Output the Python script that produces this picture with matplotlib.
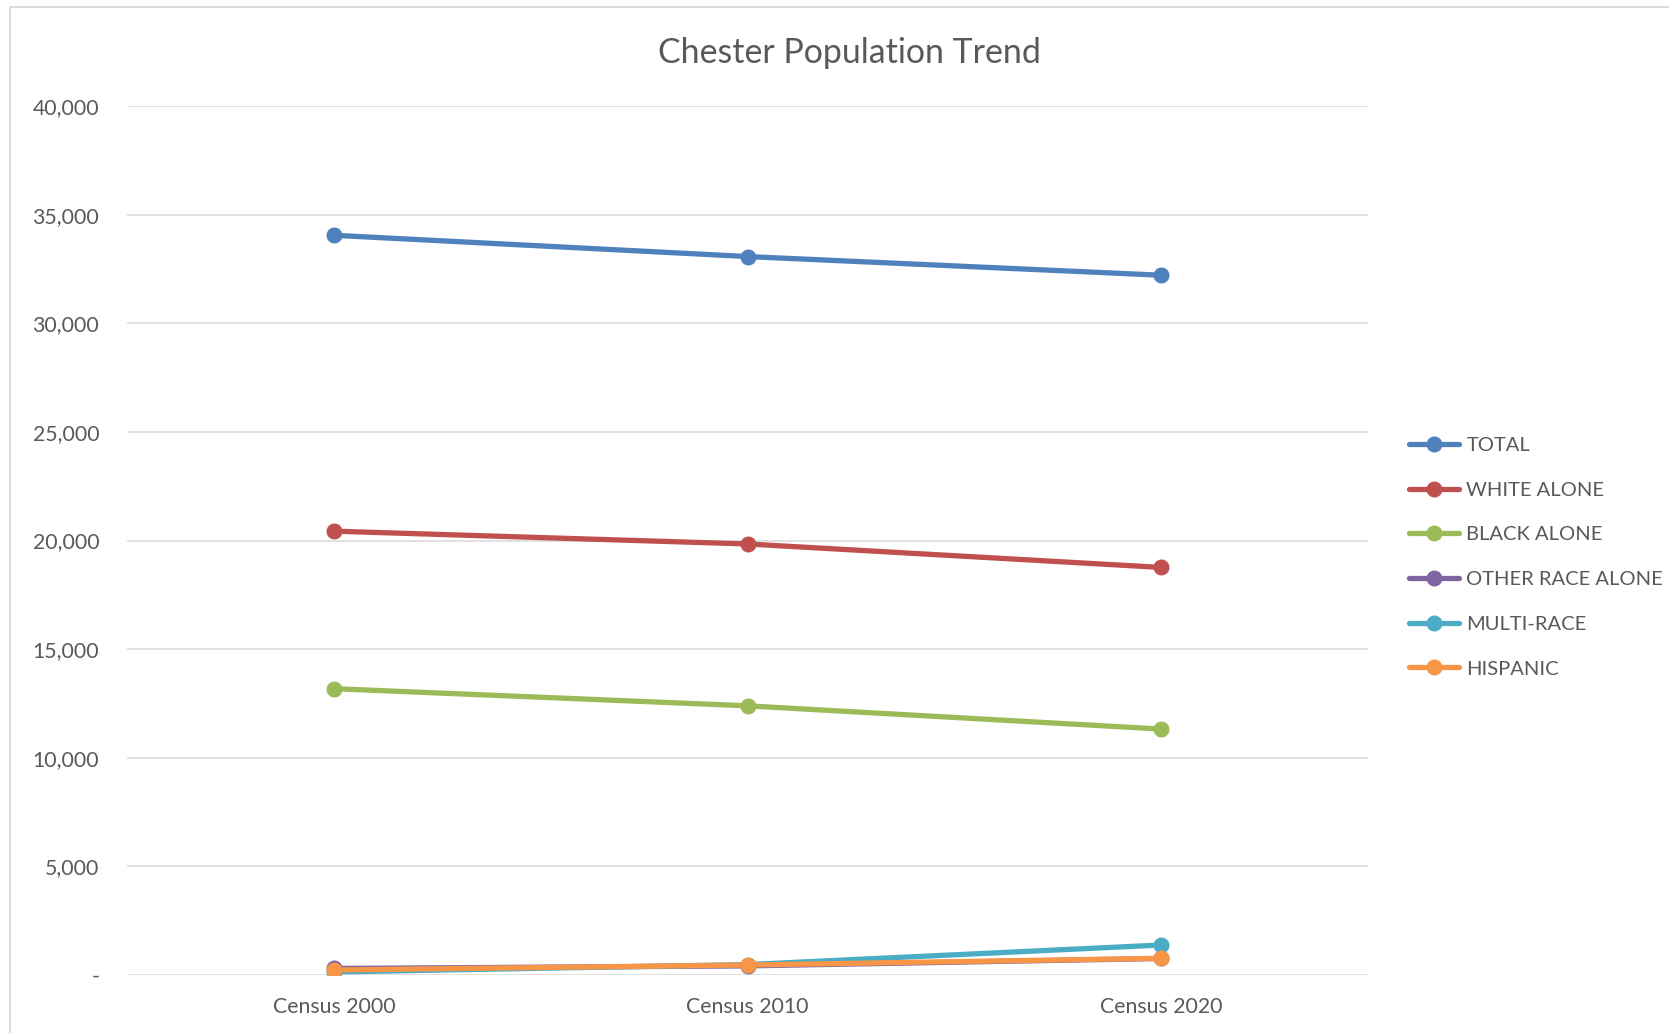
import matplotlib
matplotlib.use("Agg")
import matplotlib.pyplot as plt
from matplotlib.patches import Rectangle
from matplotlib.ticker import FuncFormatter

plt.rcParams['font.family'] = ['Lato', 'DejaVu Sans']

# Census counts by group
censuses = ["Census 2000", "Census 2010", "Census 2020"]
total = [34050, 33070, 32210]
white_alone = [20430, 19840, 18760]
black_alone = [13180, 12390, 11320]
other_race_alone = [300, 420, 760]
multi_race = [140, 480, 1380]
hispanic = [230, 460, 770]

series = [
    ("TOTAL", total, "#4F81BD"),
    ("WHITE ALONE", white_alone, "#C0504D"),
    ("BLACK ALONE", black_alone, "#9BBB59"),
    ("OTHER RACE ALONE", other_race_alone, "#8064A2"),
    ("MULTI-RACE", multi_race, "#4BACC6"),
    ("HISPANIC", hispanic, "#F79646"),
]

W, H = 1669, 1033
fig = plt.figure(figsize=(W / 100, H / 100), dpi=100)
fig.patch.set_facecolor("white")

# chart-area frame
fig.add_artist(Rectangle((10 / W, -0.05), 1.2, 1 - 7 / H + 0.05,
                         transform=fig.transFigure, fill=False,
                         edgecolor="#D9D9D9", linewidth=1.3))

ax = fig.add_axes([127 / W, 1 - 975 / H, (1368 - 127) / W, (975 - 106) / H])
x = range(len(censuses))
for name, vals, color in series:
    ax.plot(x, vals, color=color, linewidth=3.8, marker="o", markersize=10.5,
            solid_capstyle="round", label=name)

ax.set_xlim(-0.5, len(censuses) - 0.5)
ax.set_ylim(0, 40000)
ax.set_yticks(range(0, 40001, 5000))
ax.yaxis.set_major_formatter(FuncFormatter(lambda v, p: "-" if v == 0 else f"{int(v):,}"))
ax.set_xticks(list(x))
ax.set_xticklabels(censuses)
ax.grid(axis="y", color="#D9D9D9", linewidth=1.1)
ax.set_axisbelow(True)
for s in ax.spines.values():
    s.set_visible(False)
ax.tick_params(axis="both", length=0, colors="#595959", labelsize=15.3)
ax.tick_params(axis="y", pad=20)
ax.tick_params(axis="x", pad=16)

fig.text(849 / W, 1 - 53 / H, "Chester Population Trend", ha="center", va="center",
         fontsize=24.4, color="#595959")

leg = ax.legend(loc="upper left", bbox_to_anchor=(1409 / W, 1 - 437 / H),
                bbox_transform=fig.transFigure, frameon=False, fontsize=14.5,
                labelcolor="#595959", handlelength=2.5, handletextpad=0.35,
                labelspacing=1.37, borderaxespad=0, borderpad=0)

fig.savefig("out.png", dpi=100, facecolor="white")
